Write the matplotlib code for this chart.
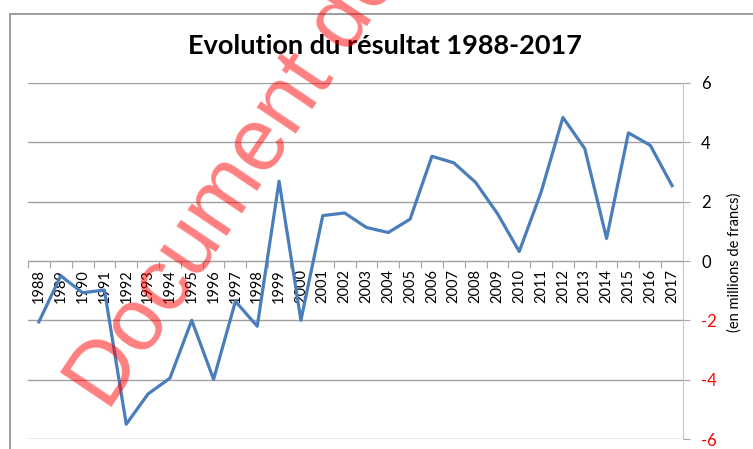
import numpy as np
import matplotlib
matplotlib.use('Agg')
import matplotlib.pyplot as plt
from matplotlib.patches import Rectangle

## Donnees
annees = [str(a) for a in range(1988, 2018)]
resultat = [-2.05, -0.5, -1.07, -0.98, -5.5, -4.48, -3.95, -2.0, -3.99, -1.36,
            -2.2, 2.69, -2.0, 1.53, 1.62, 1.13, 0.96, 1.41, 3.53, 3.31,
            2.65, 1.6, 0.32, 2.32, 4.84, 3.79, 0.76, 4.32, 3.9, 2.54]
ticks_y = [-6, -4, -2, 0, 2, 4, 6]

plt.rcParams['font.family'] = ['Lato', 'DejaVu Sans']

fig = plt.figure(figsize=(7.53, 4.49), dpi=100)
W, H = 753, 449

# cadre du graphique (type Excel)
fig.patches.append(Rectangle((10 / W, -0.1), 1.2, (H - 14) / H + 0.1,
                             transform=fig.transFigure, fill=False,
                             edgecolor='#8c8c8c', lw=1.2))

ax = fig.add_axes([28 / W, 10 / H, (683 - 28) / W, (439 - 83) / H])
x = np.arange(len(annees))
ax.plot(x, resultat, color='#4a7ebb', lw=2.3, solid_joinstyle='round', zorder=3)

ax.set_xlim(-0.5, len(annees) - 0.5)
ax.set_ylim(-6, 6)

# axe des categories a zero
ax.spines['bottom'].set_position(('data', 0))
ax.spines['bottom'].set_color('#a6a6a6')
ax.spines['left'].set_visible(False)
ax.spines['top'].set_visible(False)
ax.spines['right'].set_color('#c8c8c8')

ax.set_xticks(np.arange(-0.5, len(annees), 1.0))
ax.set_xticklabels([])
ax.set_xticks(x, minor=True)
ax.set_xticklabels(annees, minor=True, rotation=90, fontsize=10.5)
ax.tick_params(axis='x', which='major', length=5, color='#a6a6a6', direction='out')
ax.tick_params(axis='x', which='minor', length=0, pad=6)

ax.yaxis.tick_right()
ax.set_yticks(ticks_y)
ax.set_yticklabels([str(t) for t in ticks_y], fontsize=12)
ax.tick_params(axis='y', length=5, color='#a6a6a6', pad=8)
for lab, t in zip(ax.get_yticklabels(), ticks_y):
    lab.set_color('red' if t < 0 else 'black')

ax.grid(axis='y', color='#a0a0a0', lw=1.0)
ax.set_axisbelow(True)

fig.text(385 / W, 1 - 46 / H, 'Evolution du résultat 1988-2017', ha='center', va='center',
         fontsize=19.5, fontweight='bold')
fig.text(735 / W, 1 - 262 / H, '(en millions de francs)', rotation=90, ha='center',
         va='center', fontsize=10.5)

# filigrane
fig.text(108 / W, 1 - 412 / H, 'Document de travail', rotation=56, rotation_mode='anchor',
         ha='left', va='baseline', fontsize=64, color='red', alpha=0.5,
         family='Liberation Sans', zorder=10)

plt.savefig('out.png', dpi=100)
